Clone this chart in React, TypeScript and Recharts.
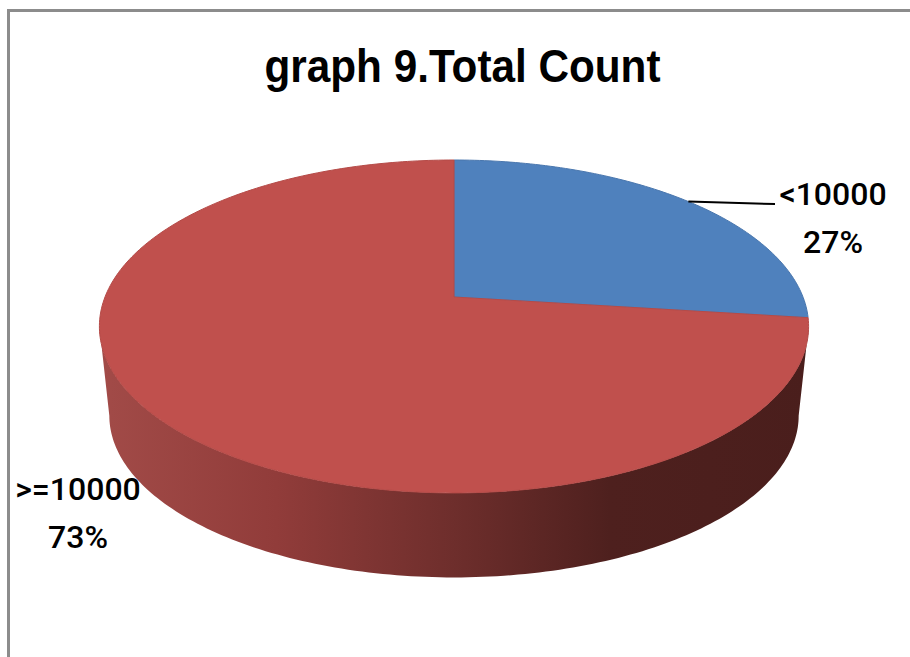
import React from "react";
import { PieChart, Pie, Cell } from "recharts";

const categories = ["<10000", ">=10000"];
const shares = [27, 73];
const sliceColors = ["#4F81BD", "#C0504D"];
const sliceEdges = ["#4A77AE", "#B54B48"];
const tableRows = categories.map((name, i) => ({ name, value: shares[i] }));

const WIDTH = 910;
const HEIGHT = 657;
const PIE_CX = 454;
const PIE_CY = 297;
const PIE_R = 349;

// Tilted-disc projection: far side is foreshortened, near side enlarged.
const TILT = 0.462;
const PERSPECTIVE = 0.177;
const BASE_SCALE = 0.972;
const BASE_DROP = 90;

type Pt = [number, number];

function project(clockDeg: number, cx: number, cy: number, r: number): Pt {
  const t = (clockDeg * Math.PI) / 180;
  const side = Math.sin(t);
  const depth = Math.cos(t);
  const w = 1 + PERSPECTIVE * depth;
  return [cx + (r * side) / w, cy - (r * TILT * depth) / w];
}

function arcPoints(from: number, to: number, cx: number, cy: number, r: number): Pt[] {
  const steps = Math.max(2, Math.ceil(Math.abs(to - from)));
  const pts: Pt[] = [];
  for (let i = 0; i <= steps; i++) {
    pts.push(project(from + ((to - from) * i) / steps, cx, cy, r));
  }
  return pts;
}

const toPath = (pts: Pt[]) =>
  pts.map((p, i) => `${i ? "L" : "M"}${p[0].toFixed(2)} ${p[1].toFixed(2)}`).join(" ");

// Silhouette limits of the disc rim, measured clockwise from twelve o'clock.
const RIM_RIGHT = (Math.acos(-PERSPECTIVE) * 180) / Math.PI;
const RIM_LEFT = 360 - RIM_RIGHT;

function DiscSlice(props: any) {
  const { cx, cy, outerRadius, startAngle, endAngle, fill, stroke } = props;
  const from = 90 - startAngle;
  const to = 90 - endAngle;
  const wallFrom = Math.max(from, RIM_RIGHT);
  const wallTo = Math.min(to, RIM_LEFT);
  const hasWall = wallTo > wallFrom;
  const top = arcPoints(from, to, cx, cy, outerRadius);
  let wall = "";
  if (hasWall) {
    const upper = arcPoints(wallFrom, wallTo, cx, cy, outerRadius);
    const lower = arcPoints(
      wallTo,
      wallFrom,
      cx,
      cy + BASE_DROP,
      outerRadius * BASE_SCALE
    );
    wall = `${toPath(upper)} ${toPath(lower).replace("M", "L")} Z`;
  }
  return (
    <g>
      {hasWall && <path d={wall} fill="url(#discWall)" stroke="none" />}
      <path
        d={`M${cx} ${cy} ${toPath(top).replace("M", "L")} Z`}
        fill={fill}
        stroke={stroke}
        strokeWidth={1}
      />
    </g>
  );
}

const labelSpots = [
  { x: 833, y: 205, leaderEnd: [775, 204] as Pt },
  { x: 78, y: 500, leaderEnd: null },
];

function SliceLabel(props: any) {
  const { index, name, value, midAngle, cx, cy, outerRadius } = props;
  const spot = labelSpots[index];
  const anchor = project(90 - midAngle, cx, cy, outerRadius);
  const textStyle = {
    fontFamily: "Roboto, sans-serif",
    fontWeight: 500,
    fontSize: 32,
    fill: "#000",
  };
  return (
    <g>
      {spot.leaderEnd && (
        <line
          x1={anchor[0]}
          y1={anchor[1]}
          x2={spot.leaderEnd[0]}
          y2={spot.leaderEnd[1]}
          stroke="#000"
          strokeWidth={2}
        />
      )}
      <text x={spot.x} y={spot.y} textAnchor="middle" style={textStyle}>
        {name}
      </text>
      <text x={spot.x} y={spot.y + 48} textAnchor="middle" style={textStyle}>
        {`${value}%`}
      </text>
    </g>
  );
}

export default function App() {
  return (
    <div style={{ position: "absolute", left: 0, top: 0, width: WIDTH, height: HEIGHT }}>
      <PieChart
        width={WIDTH}
        height={HEIGHT}
        margin={{ top: 0, right: 0, bottom: 0, left: 0 }}
        accessibilityLayer={false}
      >
        <defs>
          <linearGradient id="discWall" gradientUnits="userSpaceOnUse" x1={99} x2={809} y1={0} y2={0}>
            <stop offset="0" stopColor="#A24B48" />
            <stop offset="0.25" stopColor="#913C3A" />
            <stop offset="0.5" stopColor="#6E2E2C" />
            <stop offset="0.72" stopColor="#4E201E" />
            <stop offset="1" stopColor="#4A1E1C" />
          </linearGradient>
        </defs>
        <path d={`M8.5 ${HEIGHT} L8.5 10.5 L${WIDTH} 10.5`} fill="none" stroke="#8C8C8C" strokeWidth={3} />
        <text
          x={462.5}
          y={82}
          textAnchor="middle"
          textLength={396}
          lengthAdjust="spacingAndGlyphs"
          style={{
            fontFamily: '"Liberation Sans", sans-serif',
            fontWeight: 700,
            fontSize: 46,
            fill: "#000",
          }}
        >
          graph 9.Total Count
        </text>
        <Pie
          data={tableRows}
          dataKey="value"
          nameKey="name"
          cx={PIE_CX}
          cy={PIE_CY}
          outerRadius={PIE_R}
          startAngle={90}
          endAngle={-270}
          paddingAngle={0}
          isAnimationActive={false}
          shape={DiscSlice}
          label={SliceLabel}
          labelLine={false}
        >
          {tableRows.map((row, i) => (
            <Cell key={row.name} fill={sliceColors[i]} stroke={sliceEdges[i]} />
          ))}
        </Pie>
      </PieChart>
    </div>
  );
}
